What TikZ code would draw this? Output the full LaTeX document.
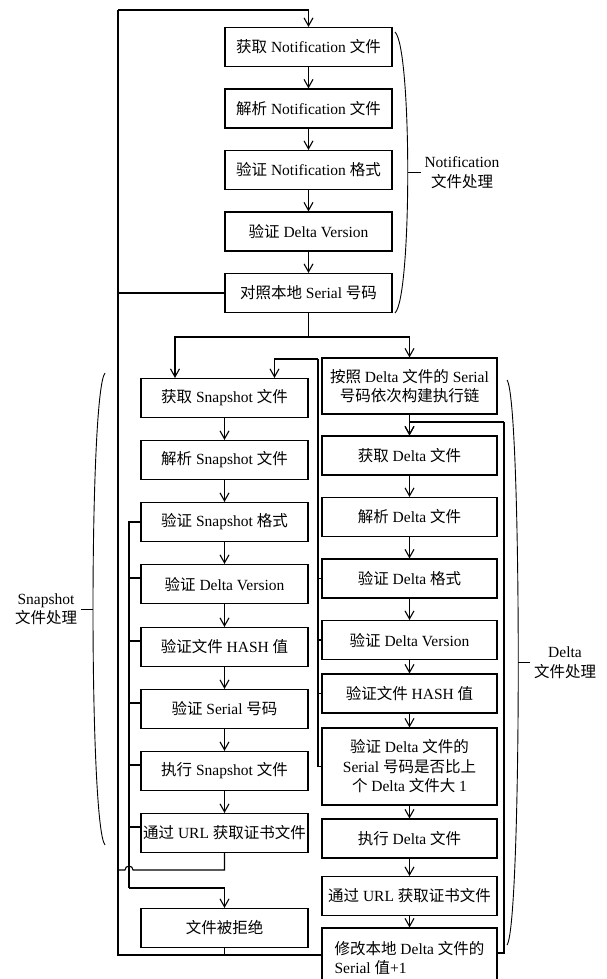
\documentclass[tikz,border=0pt]{standalone}
\usepackage{fontspec}
\setmainfont{Liberation Serif}
\newfontfamily\zhfont{Noto Sans CJK SC}
\newfontfamily\enfont{Liberation Serif}
\usetikzlibrary{arrows.meta}

% switch to the CJK font for ideographs
\XeTeXinterchartokenstate=1
\newXeTeXintercharclass\zhclass
\count255="4E00
\loop
  \XeTeXcharclass\count255=\zhclass
  \ifnum\count255<"9FFF \advance\count255 by 1
\repeat
\XeTeXinterchartoks 0 \zhclass = {\zhfont}
\XeTeXinterchartoks 4095 \zhclass = {\zhfont}
\XeTeXinterchartoks \zhclass 0 = {\enfont}
\XeTeXinterchartoks \zhclass 4095 = {\enfont}

\begin{document}
\begin{tikzpicture}[x=1pt, y=-1pt, line width=1.1pt,
  font=\fontsize{15.5}{19.5}\selectfont,
  box/.style={draw, minimum width=167pt, minimum height=39pt,
    inner xsep=1pt, inner ysep=2pt, align=center},
  dbox/.style={box, minimum width=175pt},
  arr/.style={-{Straight Barb[length=8pt,width=9pt]}},
  brace/.style={line width=0.9pt},
  lab/.style={align=center, inner sep=3pt}]
  \useasboundingbox (0,0) rectangle (606,979);

  % notification
  \node[box] (n1) at (308.5,47)    {获取 Notification 文件};
  \node[box] (n2) at (308.5,108.5) {解析 Notification 文件};
  \node[box] (n3) at (308.5,170)   {验证 Notification 格式};
  \node[box] (n4) at (308.5,231.5) {验证 Delta Version};
  \node[box] (n5) at (308.5,293)   {对照本地 Serial 号码};

  % snapshot
  \node[box] (s1) at (224.5,398) {获取 Snapshot 文件};
  \node[box] (s2) at (224.5,460) {解析 Snapshot 文件};
  \node[box] (s3) at (224.5,522) {验证 Snapshot 格式};
  \node[box] (s4) at (224.5,584) {验证 Delta Version};
  \node[box] (s5) at (224.5,647) {验证文件 HASH 值};
  \node[box] (s6) at (224.5,709) {验证 Serial 号码};
  \node[box] (s7) at (224.5,771) {执行 Snapshot 文件};
  \node[box] (s8) at (224.5,833) {通过 URL 获取证书文件};
  \node[box] (rej) at (224.5,928) {文件被拒绝};

  % delta
  \node[dbox, minimum height=56pt] (d0) at (409.5,386)
    {按照 Delta 文件的 Serial\\号码依次构建执行链};
  \node[dbox] (d1) at (409.5,455.5) {获取 Delta 文件};
  \node[dbox] (d2) at (409.5,517)   {解析 Delta 文件};
  \node[dbox] (d3) at (409.5,578.5) {验证 Delta 格式};
  \node[dbox] (d4) at (409.5,640)   {验证 Delta Version};
  \node[dbox] (d5) at (409.5,693.5) {验证文件 HASH 值};
  \node[dbox, minimum height=77pt] (d6) at (409.5,766.5)
    {验证 Delta 文件的\\Serial 号码是否比上\\个 Delta 文件大 1};
  \node[dbox] (d7) at (409.5,838.5) {执行 Delta 文件};
  \node[dbox] (d8) at (409.5,896)   {通过 URL 获取证书文件};
  \node[dbox, minimum height=60pt, align=left] (d9) at (409.5,958)
    {修改本地 Delta 文件的\\Serial 值+1};

  % labels
  \node[lab] (nlab) at (462,172.5) {Notification\\文件处理};
  \node[lab] (slab) at (46,609)    {Snapshot\\文件处理};
  \node[lab] (dlab) at (565,662.5) {Delta\\文件处理};

  % straight steps
  \foreach \a/\b in {n1/n2,n2/n3,n3/n4,n4/n5,
                     s1/s2,s2/s3,s3/s4,s4/s5,s5/s6,s6/s7,s7/s8,
                     d0/d1,d1/d2,d2/d3,d3/d4,d4/d5,d5/d6,d6/d7,d7/d8,d8/d9}
    \draw[arr] (\a) -- (\b);

  % back to the start
  \coordinate (topL) at (118,10);
  \coordinate (loopL) at (118,955);
  \draw (rej.south) |- (loopL) -- (topL);
  \draw[arr] (topL) -| (n1.north);
  \draw (loopL -| d9.west) -- (loopL);
  \draw (n5.west) -- (n5.west -| topL);

  % split after the serial check
  \coordinate (split) at (308.5,337);
  \draw (n5.south) -- (split);
  \draw[arr] (split) -| (d0.north);
  \draw[arr] (split) -| ([xshift=-49.5pt]s1.north);

  % delta fails, fall back to snapshot
  \coordinate (fbT) at (318,359);
  \draw[arr] (fbT) -| ([xshift=50pt]s1.north);
  \draw (fbT) |- (d6.west);
  \foreach \d in {d3,d4,d5}
    \draw (\d.west) -- (\d.west -| fbT);

  % snapshot fails
  \coordinate (rjL) at (129,888);
  \draw (s3.west) -| (rjL);
  \foreach \i in {4,...,8}
    \draw ([yshift=6pt]s\i.west) -- ([yshift=6pt]s\i.west -| rjL);
  \draw[arr] (rjL) -| (rej.north);

  % snapshot done
  \coordinate (okL) at (118,870);
  \draw (s8.south) |- ([xshift=15pt]okL)
    arc[start angle=0, end angle=180, radius=4pt] -- (okL);

  % next delta file
  \coordinate (dl) at (504,422);
  \coordinate (dlB) at (504,953);
  \draw (d9.east |- dlB) -- (dlB) -- (dl);
  \draw[arr] (dl) -| (d1.north);

  % braces
  \draw[brace] (395,32) .. controls (412,48) and (412,297) .. (395,313)
    coordinate[pos=0.5] (nbr);
  \draw[brace] (nbr) -- (nbr -| nlab.west);
  \draw[brace] (105,373) .. controls (89,393) and (89,825) .. (105,845)
    coordinate[pos=0.5] (sbr);
  \draw[brace] (sbr) -- (sbr -| slab.east);
  \draw[brace] (507,380) .. controls (522,400) and (522,925) .. (507,945)
    coordinate[pos=0.5] (dbr);
  \draw[brace] (dbr) -- (dbr -| dlab.west);
\end{tikzpicture}
\end{document}
